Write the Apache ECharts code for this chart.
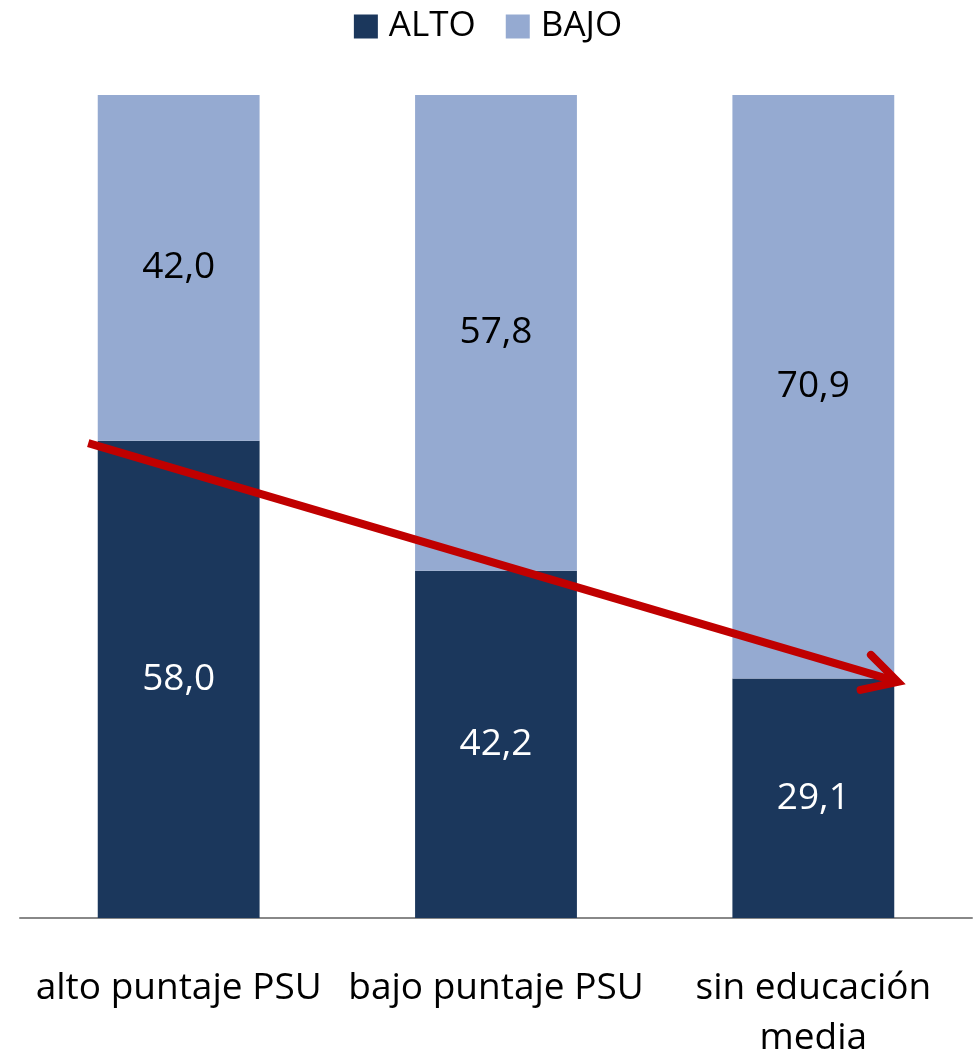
<!DOCTYPE html>
<html>
<head>
<meta charset="utf-8">
<script src="https://cdn.jsdelivr.net/npm/echarts@6/dist/echarts.min.js"></script>
<style>
  html, body { margin: 0; padding: 0; background: #fff; }
  #chart { width: 976px; height: 1055px; }
</style>
</head>
<body>
<div id="chart"></div>
<script>
// datos
const categories = ['alto puntaje PSU', 'bajo puntaje PSU', 'sin educación\nmedia'];
const alto = [58.0, 42.2, 29.1];
const bajo = [42.0, 57.8, 70.9];
// flecha de tendencia (x en unidades de categoría, y en %)
const arrowX = [-0.285, 2.266];
const arrowY = [57.7, 28.7];

const fontFamily = '"Open Sans", Lato, sans-serif';
const fmt = p => p.value.toFixed(1).replace('.', ',');

const myChart = echarts.init(document.getElementById('chart'));

const option = {
  animation: false,
  textStyle: { fontFamily: fontFamily },
  legend: {
    top: 4,
    left: 'center',
    itemWidth: 24,
    itemHeight: 24,
    itemGap: 30,
    icon: 'rect',
    textStyle: { fontSize: 35, color: '#000', fontFamily: fontFamily, padding: [0, 0, 0, 6] },
    data: ['ALTO', 'BAJO']
  },
  grid: {
    top: 95,
    bottom: 137,
    left: 20,
    right: 4,
    outerBoundsMode: 'none',
    containLabel: false
  },
  xAxis: [{
    type: 'category',
    data: categories,
    axisLine: { lineStyle: { color: '#888', width: 2 } },
    axisTick: { show: false },
    axisLabel: {
      interval: 0,
      margin: 45,
      fontSize: 37,
      lineHeight: 50,
      color: '#000',
      fontFamily: fontFamily
    }
  }, {
    type: 'value',
    min: -0.5,
    max: 2.5,
    show: false
  }],
  yAxis: {
    type: 'value',
    min: 0,
    max: 100,
    show: false,
    splitLine: { show: false }
  },
  series: [{
    name: 'ALTO',
    type: 'bar',
    stack: 'total',
    barWidth: '51%',
    data: alto,
    itemStyle: { color: '#1b375c' },
    label: { show: true, position: 'inside', color: '#fff', fontSize: 37, formatter: fmt }
  }, {
    name: 'BAJO',
    type: 'bar',
    stack: 'total',
    data: bajo,
    itemStyle: { color: '#95aad1' },
    label: { show: true, position: 'inside', color: '#000', fontSize: 37, formatter: fmt }
  }, {
    type: 'custom',
    xAxisIndex: 1,
    silent: true,
    z: 10,
    data: [[arrowX[0], arrowY[0], arrowX[1], arrowY[1]]],
    renderItem: function (params, api) {
      const p0 = api.coord([api.value(0), api.value(1)]);
      const p1 = api.coord([api.value(2), api.value(3)]);
      const ang = Math.atan2(p1[1] - p0[1], p1[0] - p0[0]);
      const len = 38, spread = 0.5;
      const a1 = [p1[0] - len * Math.cos(ang - spread), p1[1] - len * Math.sin(ang - spread)];
      const a2 = [p1[0] - len * Math.cos(ang + spread), p1[1] - len * Math.sin(ang + spread)];
      const style = { stroke: '#c00000', lineWidth: 8, fill: null, lineCap: 'round', lineJoin: 'miter' };
      return {
        type: 'group',
        children: [{
          type: 'line',
          shape: { x1: p0[0], y1: p0[1], x2: p1[0] - 4 * Math.cos(ang), y2: p1[1] - 4 * Math.sin(ang) },
          style: Object.assign({}, style, { lineCap: 'butt' })
        }, {
          type: 'polyline',
          shape: { points: [a1, p1, a2] },
          style: style
        }]
      };
    }
  }]
};

myChart.setOption(option);
window.addEventListener('resize', () => myChart.resize());
</script>
</body>
</html>
